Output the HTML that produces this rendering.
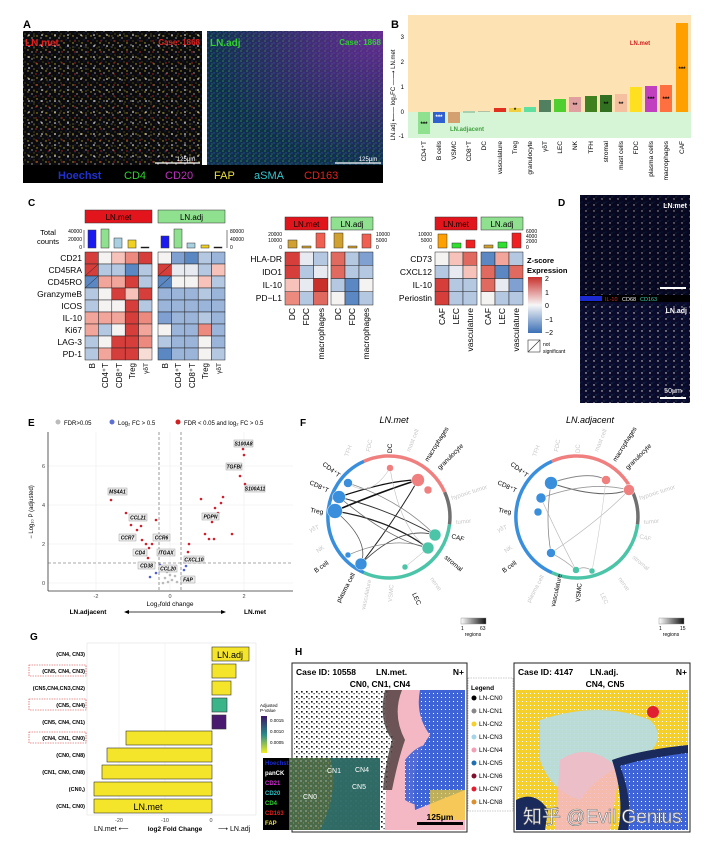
<!DOCTYPE html>
<html><head><meta charset="utf-8"><style>
html,body{margin:0;padding:0;background:#fff;}
svg{display:block;font-family:"Liberation Sans","Noto Sans CJK SC",sans-serif;}
</style></head><body>
<svg width="720" height="845" viewBox="0 0 720 845" xmlns="http://www.w3.org/2000/svg">
<defs>
<pattern id="spk1" width="9" height="7" patternUnits="userSpaceOnUse">
<rect width="9" height="7" fill="#0b0b0e"/>
<circle cx="1" cy="1" r="0.7" fill="#b8a830"/><circle cx="5" cy="3" r="0.6" fill="#eee"/>
<circle cx="7" cy="6" r="0.6" fill="#6a6a20"/><circle cx="3" cy="5" r="0.5" fill="#2a3a90"/>
</pattern>
<pattern id="spk1b" width="13" height="11" patternUnits="userSpaceOnUse">
<circle cx="3" cy="2" r="0.8" fill="#fff"/><circle cx="10" cy="8" r="0.7" fill="#c02020"/><circle cx="8" cy="3" r="0.5" fill="#d0c040"/>
</pattern>
<pattern id="spk2" width="6" height="5" patternUnits="userSpaceOnUse">
<rect width="6" height="5" fill="#10304a"/>
<circle cx="1" cy="1" r="0.8" fill="#2a8a5a"/><circle cx="4" cy="3" r="0.7" fill="#2a4ab0"/>
<circle cx="2" cy="4" r="0.5" fill="#40a0a0"/>
</pattern>
<pattern id="spkD" width="8" height="6" patternUnits="userSpaceOnUse">
<rect width="8" height="6" fill="#0a0a2a"/>
<circle cx="2" cy="1" r="0.7" fill="#e8e8e8"/><circle cx="6" cy="4" r="0.5" fill="#1a2a90"/><circle cx="4" cy="5" r="0.4" fill="#40c0b0"/>
</pattern>
<pattern id="blk" width="5" height="5" patternUnits="userSpaceOnUse">
<rect width="5" height="5" fill="#fff"/><rect x="1" y="1" width="1.6" height="1.6" fill="#111"/><rect x="3.5" y="3" width="1.2" height="1.2" fill="#333"/>
</pattern>
<pattern id="bluep" width="4" height="4" patternUnits="userSpaceOnUse">
<rect width="4" height="4" fill="#3f64d8"/><rect x="1" y="1" width="1" height="1" fill="#fff"/>
</pattern>
<pattern id="yelp" width="4" height="4" patternUnits="userSpaceOnUse">
<rect width="4" height="4" fill="#f5cf2a"/><rect x="2" y="1" width="1" height="1" fill="#fff"/>
</pattern>
<pattern id="insp" width="5" height="5" patternUnits="userSpaceOnUse">
<rect width="5" height="5" fill="#4a6a48"/><circle cx="1" cy="1" r="0.6" fill="#ddd"/><circle cx="3.5" cy="3" r="0.5" fill="#b0a060"/>
</pattern>
<radialGradient id="pur" cx="1" cy="0" r="1">
<stop offset="0" stop-color="#8a2ab0" stop-opacity="0.7"/><stop offset="1" stop-color="#8a2ab0" stop-opacity="0"/></radialGradient>
<linearGradient id="zc" x1="0" y1="0" x2="0" y2="1">
<stop offset="0" stop-color="#c9302c"/><stop offset="0.5" stop-color="#f7f7f7"/><stop offset="1" stop-color="#3a6fb5"/></linearGradient>
<linearGradient id="gc" x1="0" y1="0" x2="0" y2="1">
<stop offset="0" stop-color="#3b1866"/><stop offset="0.5" stop-color="#2a8a8a"/><stop offset="1" stop-color="#f0f020"/></linearGradient>
<linearGradient id="gl" x1="0" y1="0" x2="1" y2="0">
<stop offset="0" stop-color="#fff"/><stop offset="1" stop-color="#111"/></linearGradient>
</defs>

<!-- ===== A ===== -->
<text x="23" y="28" font-size="11" font-weight="bold">A</text>
<rect x="23" y="31" width="179" height="134" fill="url(#spk1)"/>
<rect x="23" y="31" width="179" height="134" fill="url(#spk1b)"/>
<rect x="207" y="31" width="176" height="134" fill="url(#spk2)"/>
<rect x="207" y="31" width="176" height="134" fill="url(#pur)"/>
<text x="25" y="46" font-size="10" font-weight="bold" fill="#e02020">LN.met</text>
<text x="200" y="45" font-size="8" font-weight="bold" fill="#e02020" text-anchor="end">Case: 1868</text>
<text x="210" y="46" font-size="10" font-weight="bold" fill="#30d030">LN.adj</text>
<text x="381" y="45" font-size="8" font-weight="bold" fill="#30d030" text-anchor="end">Case: 1868</text>
<line x1="155" y1="163" x2="200" y2="163" stroke="#fff" stroke-width="1.2"/>
<text x="186" y="161" font-size="6" fill="#fff" text-anchor="middle">125μm</text>
<line x1="335" y1="163" x2="381" y2="163" stroke="#fff" stroke-width="1.2"/>
<text x="368" y="161" font-size="6" fill="#fff" text-anchor="middle">125μm</text>
<rect x="23" y="165" width="360" height="18" fill="#000"/>
<text x="58" y="179" font-size="11" font-weight="bold" fill="#2030d0">Hoechst</text>
<text x="124" y="179" font-size="11" fill="#30d030">CD4</text>
<text x="165" y="179" font-size="11" fill="#c030c0">CD20</text>
<text x="214" y="179" font-size="11" fill="#e8e040">FAP</text>
<text x="254" y="179" font-size="11" fill="#30c8d0">aSMA</text>
<text x="304" y="179" font-size="11" fill="#e02020">CD163</text>

<!-- ===== B ===== -->
<text x="391" y="28" font-size="11" font-weight="bold">B</text>
<rect x="408" y="15" width="283" height="97" fill="#fde3b4"/>
<rect x="408" y="112" width="283" height="26" fill="#d6f5d6"/>
<g font-size="6" text-anchor="end"><text x="404" y="39">3</text><text x="404" y="64">2</text><text x="404" y="89">1</text><text x="404" y="114">0</text><text x="404" y="138">-1</text></g>
<text transform="translate(395,95) rotate(-90)" font-size="6" text-anchor="middle">LN.adj ⟵— log₂FC —⟶ LN.met</text>
<text x="640" y="45" font-size="6" fill="#d02020" text-anchor="middle" font-weight="bold">LN.met</text>
<text x="450" y="131" font-size="6" fill="#40a040" font-weight="bold">LN.adjacent</text>
<g stroke="none">
<rect x="418" y="112" width="12" height="22" fill="#8fe08f"/>
<rect x="433" y="112" width="12" height="11" fill="#3060d0"/>
<rect x="448" y="112" width="12" height="11" fill="#d4a070"/>
<rect x="463" y="111" width="12" height="2" fill="#a8d0b0"/>
<rect x="478" y="111" width="12" height="1" fill="#b0c0a0"/>
<rect x="494" y="108" width="12" height="4" fill="#e03020"/>
<rect x="509" y="108" width="12" height="4" fill="#f0d040"/>
<rect x="524" y="107" width="12" height="5" fill="#60e0a0"/>
<rect x="539" y="100" width="12" height="12" fill="#508060"/>
<rect x="554" y="99" width="12" height="13" fill="#50d030"/>
<rect x="569" y="97" width="12" height="15" fill="#e0a0a0"/>
<rect x="585" y="96" width="12" height="16" fill="#408020"/>
<rect x="600" y="95" width="12" height="17" fill="#307020"/>
<rect x="615" y="94" width="12" height="18" fill="#f5c0a0"/>
<rect x="630" y="87" width="12" height="25" fill="#ffe020"/>
<rect x="645" y="86" width="12" height="26" fill="#c040c0"/>
<rect x="660" y="85" width="12" height="27" fill="#ff7040"/>
<rect x="676" y="23" width="12" height="89" fill="#ffa000"/>
</g>
<g font-size="6" font-weight="bold" text-anchor="middle">
<text x="424" y="126">***</text><text x="439" y="119" fill="#fff">***</text><text x="515" y="112">*</text>
<text x="575" y="107">**</text><text x="606" y="106">**</text><text x="621" y="106">**</text>
<text x="651" y="101">***</text><text x="666" y="101">***</text><text x="682" y="71">***</text></g>
<g font-size="6.5" text-anchor="end">
<text transform="translate(426,141) rotate(-90)">CD4⁺T</text>
<text transform="translate(441,141) rotate(-90)">B cells</text>
<text transform="translate(456,141) rotate(-90)">VSMC</text>
<text transform="translate(471,141) rotate(-90)">CD8⁺T</text>
<text transform="translate(486,141) rotate(-90)">DC</text>
<text transform="translate(502,141) rotate(-90)">vasculature</text>
<text transform="translate(517,141) rotate(-90)">Treg</text>
<text transform="translate(532,141) rotate(-90)">granulocyte</text>
<text transform="translate(547,141) rotate(-90)">γδT</text>
<text transform="translate(562,141) rotate(-90)">LEC</text>
<text transform="translate(577,141) rotate(-90)">NK</text>
<text transform="translate(593,141) rotate(-90)">TFH</text>
<text transform="translate(608,141) rotate(-90)">stromal</text>
<text transform="translate(623,141) rotate(-90)">mast cells</text>
<text transform="translate(638,141) rotate(-90)">FDC</text>
<text transform="translate(653,141) rotate(-90)">plasma cells</text>
<text transform="translate(668,141) rotate(-90)">macrophages</text>
<text transform="translate(684,141) rotate(-90)">CAF</text></g>

<!-- ===== C ===== -->
<text x="28" y="206" font-size="10" font-weight="bold">C</text>
<g font-size="8" text-anchor="middle">
<rect x="85" y="210" width="67" height="13" fill="#e3151c" stroke="#333" stroke-width="0.5"/><text x="118.5" y="220">LN.met</text>
<rect x="158" y="210" width="67" height="13" fill="#8fe08f" stroke="#333" stroke-width="0.5"/><text x="191.5" y="220">LN.adj</text>
<rect x="285" y="217" width="43" height="13" fill="#e3151c" stroke="#333" stroke-width="0.5"/><text x="306.5" y="227">LN.met</text>
<rect x="331" y="217" width="42" height="13" fill="#8fe08f" stroke="#333" stroke-width="0.5"/><text x="352" y="227">LN.adj</text>
<rect x="435" y="217" width="42" height="13" fill="#e3151c" stroke="#333" stroke-width="0.5"/><text x="456" y="227">LN.met</text>
<rect x="481" y="217" width="42" height="13" fill="#8fe08f" stroke="#333" stroke-width="0.5"/><text x="502" y="227">LN.adj</text>
</g>
<text x="48" y="235" font-size="7.5" text-anchor="middle">Total</text><text x="48" y="244" font-size="7.5" text-anchor="middle">counts</text>
<g font-size="5" text-anchor="end"><text x="82" y="233">40000</text><text x="82" y="241">20000</text><text x="82" y="249">0</text></g>
<g font-size="5"><text x="230" y="233">80000</text><text x="230" y="241">40000</text><text x="230" y="249">0</text></g>
<line x1="84" y1="230" x2="84" y2="248" stroke="#000" stroke-width="0.5"/>
<line x1="227" y1="230" x2="227" y2="248" stroke="#000" stroke-width="0.5"/>
<g stroke="#333" stroke-width="0.5">
<rect x="88" y="230" width="8" height="18" fill="#1a1af0"/><rect x="101" y="229" width="8" height="19" fill="#8fe08f"/><rect x="114" y="238" width="8" height="10" fill="#a8d0e0"/><rect x="128" y="240" width="8" height="8" fill="#f0d020"/><rect x="141" y="247" width="8" height="1" fill="#000"/>
<rect x="161" y="236" width="8" height="12" fill="#1a1af0"/><rect x="174" y="229" width="8" height="19" fill="#8fe08f"/><rect x="187" y="243" width="8" height="5" fill="#a8d0e0"/><rect x="201" y="245" width="8" height="3" fill="#f0d020"/><rect x="214" y="247" width="8" height="1" fill="#000"/>
<rect x="288" y="240" width="9" height="8" fill="#d0a030"/><rect x="302" y="246" width="9" height="2" fill="#d0a030"/><rect x="316" y="233" width="9" height="15" fill="#f06050"/>
<rect x="334" y="233" width="9" height="15" fill="#d0a030"/><rect x="348" y="246" width="9" height="2" fill="#d0a030"/><rect x="362" y="234" width="9" height="14" fill="#f06050"/>
<rect x="438" y="234" width="9" height="14" fill="#ffa000"/><rect x="452" y="243" width="9" height="5" fill="#30e030"/><rect x="466" y="240" width="9" height="8" fill="#f02020"/>
<rect x="484" y="245" width="9" height="3" fill="#d0a030"/><rect x="498" y="242" width="9" height="6" fill="#30e030"/><rect x="512" y="233" width="9" height="15" fill="#f02020"/>
</g>
<g font-size="5" text-anchor="end"><text x="282" y="236">20000</text><text x="282" y="242">10000</text><text x="282" y="249">0</text>
<text x="432" y="236">10000</text><text x="432" y="242">5000</text><text x="432" y="249">0</text></g>
<g font-size="5"><text x="376" y="236">10000</text><text x="376" y="242">5000</text><text x="376" y="249">0</text>
<text x="526" y="233">6000</text><text x="526" y="238">4000</text><text x="526" y="243">2000</text><text x="526" y="249">0</text></g>

<g stroke="#222" stroke-width="0.5">
<rect x="85" y="252" width="13.4" height="12" fill="#d53e3a"/><rect x="98.4" y="252" width="13.4" height="12" fill="#f5f2f2"/><rect x="111.8" y="252" width="13.4" height="12" fill="#f6c2ba"/><rect x="125.2" y="252" width="13.4" height="12" fill="#ec8a80"/><rect x="138.6" y="252" width="13.4" height="12" fill="#d53e3a"/>
<rect x="85" y="264" width="13.4" height="12" fill="#d53e3a"/><rect x="98.4" y="264" width="13.4" height="12" fill="#b5c8e2"/><rect x="111.8" y="264" width="13.4" height="12" fill="#b5c8e2"/><rect x="125.2" y="264" width="13.4" height="12" fill="#5b87c2"/><rect x="138.6" y="264" width="13.4" height="12" fill="#b5c8e2"/>
<rect x="85" y="276" width="13.4" height="12" fill="#5b87c2"/><rect x="98.4" y="276" width="13.4" height="12" fill="#f2a59a"/><rect x="111.8" y="276" width="13.4" height="12" fill="#f2a59a"/><rect x="125.2" y="276" width="13.4" height="12" fill="#d53e3a"/><rect x="138.6" y="276" width="13.4" height="12" fill="#b5c8e2"/>
<rect x="85" y="288" width="13.4" height="12" fill="#b5c8e2"/><rect x="98.4" y="288" width="13.4" height="12" fill="#f5f2f2"/><rect x="111.8" y="288" width="13.4" height="12" fill="#d53e3a"/><rect x="125.2" y="288" width="13.4" height="12" fill="#f6c2ba"/><rect x="138.6" y="288" width="13.4" height="12" fill="#d53e3a"/>
<rect x="85" y="300" width="13.4" height="12" fill="#b5c8e2"/><rect x="98.4" y="300" width="13.4" height="12" fill="#f5f2f2"/><rect x="111.8" y="300" width="13.4" height="12" fill="#f5f2f2"/><rect x="125.2" y="300" width="13.4" height="12" fill="#d53e3a"/><rect x="138.6" y="300" width="13.4" height="12" fill="#b5c8e2"/>
<rect x="85" y="312" width="13.4" height="12" fill="#f2a59a"/><rect x="98.4" y="312" width="13.4" height="12" fill="#f2a59a"/><rect x="111.8" y="312" width="13.4" height="12" fill="#f2a59a"/><rect x="125.2" y="312" width="13.4" height="12" fill="#d53e3a"/><rect x="138.6" y="312" width="13.4" height="12" fill="#ec8a80"/>
<rect x="85" y="324" width="13.4" height="12" fill="#f2a59a"/><rect x="98.4" y="324" width="13.4" height="12" fill="#b5c8e2"/><rect x="111.8" y="324" width="13.4" height="12" fill="#f5f2f2"/><rect x="125.2" y="324" width="13.4" height="12" fill="#d53e3a"/><rect x="138.6" y="324" width="13.4" height="12" fill="#f2a59a"/>
<rect x="85" y="336" width="13.4" height="12" fill="#b5c8e2"/><rect x="98.4" y="336" width="13.4" height="12" fill="#f5f2f2"/><rect x="111.8" y="336" width="13.4" height="12" fill="#d53e3a"/><rect x="125.2" y="336" width="13.4" height="12" fill="#d53e3a"/><rect x="138.6" y="336" width="13.4" height="12" fill="#ec8a80"/>
<rect x="85" y="348" width="13.4" height="12" fill="#b5c8e2"/><rect x="98.4" y="348" width="13.4" height="12" fill="#f2a59a"/><rect x="111.8" y="348" width="13.4" height="12" fill="#d53e3a"/><rect x="125.2" y="348" width="13.4" height="12" fill="#d53e3a"/><rect x="138.6" y="348" width="13.4" height="12" fill="#f8dcd6"/>
<rect x="158" y="252" width="13.4" height="12" fill="#f5f2f2"/><rect x="171.4" y="252" width="13.4" height="12" fill="#7fa0d0"/><rect x="184.8" y="252" width="13.4" height="12" fill="#5b87c2"/><rect x="198.2" y="252" width="13.4" height="12" fill="#b5c8e2"/><rect x="211.6" y="252" width="13.4" height="12" fill="#9ab4da"/>
<rect x="158" y="264" width="13.4" height="12" fill="#d53e3a"/><rect x="171.4" y="264" width="13.4" height="12" fill="#e8eaf2"/><rect x="184.8" y="264" width="13.4" height="12" fill="#e8eaf2"/><rect x="198.2" y="264" width="13.4" height="12" fill="#b5c8e2"/><rect x="211.6" y="264" width="13.4" height="12" fill="#f6c2ba"/>
<rect x="158" y="276" width="13.4" height="12" fill="#5b87c2"/><rect x="171.4" y="276" width="13.4" height="12" fill="#f5f2f2"/><rect x="184.8" y="276" width="13.4" height="12" fill="#f5f2f2"/><rect x="198.2" y="276" width="13.4" height="12" fill="#f6c2ba"/><rect x="211.6" y="276" width="13.4" height="12" fill="#b5c8e2"/>
<rect x="158" y="288" width="13.4" height="12" fill="#9ab4da"/><rect x="171.4" y="288" width="13.4" height="12" fill="#9ab4da"/><rect x="184.8" y="288" width="13.4" height="12" fill="#9ab4da"/><rect x="198.2" y="288" width="13.4" height="12" fill="#b5c8e2"/><rect x="211.6" y="288" width="13.4" height="12" fill="#9ab4da"/>
<rect x="158" y="300" width="13.4" height="12" fill="#9ab4da"/><rect x="171.4" y="300" width="13.4" height="12" fill="#9ab4da"/><rect x="184.8" y="300" width="13.4" height="12" fill="#9ab4da"/><rect x="198.2" y="300" width="13.4" height="12" fill="#9ab4da"/><rect x="211.6" y="300" width="13.4" height="12" fill="#9ab4da"/>
<rect x="158" y="312" width="13.4" height="12" fill="#7fa0d0"/><rect x="171.4" y="312" width="13.4" height="12" fill="#9ab4da"/><rect x="184.8" y="312" width="13.4" height="12" fill="#9ab4da"/><rect x="198.2" y="312" width="13.4" height="12" fill="#b5c8e2"/><rect x="211.6" y="312" width="13.4" height="12" fill="#9ab4da"/>
<rect x="158" y="324" width="13.4" height="12" fill="#f5f2f2"/><rect x="171.4" y="324" width="13.4" height="12" fill="#9ab4da"/><rect x="184.8" y="324" width="13.4" height="12" fill="#9ab4da"/><rect x="198.2" y="324" width="13.4" height="12" fill="#ec8a80"/><rect x="211.6" y="324" width="13.4" height="12" fill="#9ab4da"/>
<rect x="158" y="336" width="13.4" height="12" fill="#b5c8e2"/><rect x="171.4" y="336" width="13.4" height="12" fill="#9ab4da"/><rect x="184.8" y="336" width="13.4" height="12" fill="#9ab4da"/><rect x="198.2" y="336" width="13.4" height="12" fill="#f5f2f2"/><rect x="211.6" y="336" width="13.4" height="12" fill="#9ab4da"/>
<rect x="158" y="348" width="13.4" height="12" fill="#5b87c2"/><rect x="171.4" y="348" width="13.4" height="12" fill="#9ab4da"/><rect x="184.8" y="348" width="13.4" height="12" fill="#9ab4da"/><rect x="198.2" y="348" width="13.4" height="12" fill="#f5f2f2"/><rect x="211.6" y="348" width="13.4" height="12" fill="#b5c8e2"/>
</g>
<g stroke="#222" stroke-width="0.5"><line x1="85" y1="276" x2="98.4" y2="264"/><line x1="85" y1="288" x2="98.4" y2="276"/><line x1="158" y1="276" x2="171.4" y2="264"/><line x1="158" y1="288" x2="171.4" y2="276"/></g>
<g font-size="8.5" text-anchor="end">
<text x="82" y="261">CD21</text><text x="82" y="273">CD45RA</text><text x="82" y="285">CD45RO</text><text x="82" y="297">GranzymeB</text><text x="82" y="309">ICOS</text><text x="82" y="321">IL-10</text><text x="82" y="333">Ki67</text><text x="82" y="345">LAG-3</text><text x="82" y="357">PD-1</text></g>
<g font-size="8" text-anchor="end">
<text transform="translate(95,363) rotate(-90)">B</text><text transform="translate(108,363) rotate(-90)">CD4⁺T</text><text transform="translate(122,363) rotate(-90)">CD8⁺T</text><text transform="translate(135,363) rotate(-90)">Treg</text><text transform="translate(148,363) rotate(-90)" font-size="6.5">γδT</text>
<text transform="translate(168,363) rotate(-90)">B</text><text transform="translate(181,363) rotate(-90)">CD4⁺T</text><text transform="translate(195,363) rotate(-90)">CD8⁺T</text><text transform="translate(208,363) rotate(-90)">Treg</text><text transform="translate(221,363) rotate(-90)" font-size="6.5">γδT</text></g>

<g stroke="#222" stroke-width="0.5">
<rect x="285" y="252" width="14.3" height="13.25" fill="#d53e3a"/><rect x="299.3" y="252" width="14.3" height="13.25" fill="#e8eaf2"/><rect x="313.6" y="252" width="14.3" height="13.25" fill="#b5c8e2"/>
<rect x="285" y="265.25" width="14.3" height="13.25" fill="#d53e3a"/><rect x="299.3" y="265.25" width="14.3" height="13.25" fill="#b5c8e2"/><rect x="313.6" y="265.25" width="14.3" height="13.25" fill="#e8eaf2"/>
<rect x="285" y="278.5" width="14.3" height="13.25" fill="#f6c2ba"/><rect x="299.3" y="278.5" width="14.3" height="13.25" fill="#e8eaf2"/><rect x="313.6" y="278.5" width="14.3" height="13.25" fill="#c9302c"/>
<rect x="285" y="291.75" width="14.3" height="13.25" fill="#ec8a80"/><rect x="299.3" y="291.75" width="14.3" height="13.25" fill="#b5c8e2"/><rect x="313.6" y="291.75" width="14.3" height="13.25" fill="#e06a60"/>
<rect x="331" y="252" width="14" height="13.25" fill="#e06a60"/><rect x="345" y="252" width="14" height="13.25" fill="#b5c8e2"/><rect x="359" y="252" width="14" height="13.25" fill="#7fa0d0"/>
<rect x="331" y="265.25" width="14" height="13.25" fill="#e06a60"/><rect x="345" y="265.25" width="14" height="13.25" fill="#b5c8e2"/><rect x="359" y="265.25" width="14" height="13.25" fill="#b5c8e2"/>
<rect x="331" y="278.5" width="14" height="13.25" fill="#b5c8e2"/><rect x="345" y="278.5" width="14" height="13.25" fill="#5b87c2"/><rect x="359" y="278.5" width="14" height="13.25" fill="#f5f2f2"/>
<rect x="331" y="291.75" width="14" height="13.25" fill="#f5f2f2"/><rect x="345" y="291.75" width="14" height="13.25" fill="#5b87c2"/><rect x="359" y="291.75" width="14" height="13.25" fill="#b5c8e2"/>
<rect x="435" y="252" width="14" height="13.25" fill="#f5f2f2"/><rect x="449" y="252" width="14" height="13.25" fill="#f6c2ba"/><rect x="463" y="252" width="14" height="13.25" fill="#e06a60"/>
<rect x="435" y="265.25" width="14" height="13.25" fill="#b5c8e2"/><rect x="449" y="265.25" width="14" height="13.25" fill="#e8eaf2"/><rect x="463" y="265.25" width="14" height="13.25" fill="#f6c2ba"/>
<rect x="435" y="278.5" width="14" height="13.25" fill="#d53e3a"/><rect x="449" y="278.5" width="14" height="13.25" fill="#b5c8e2"/><rect x="463" y="278.5" width="14" height="13.25" fill="#b5c8e2"/>
<rect x="435" y="291.75" width="14" height="13.25" fill="#d53e3a"/><rect x="449" y="291.75" width="14" height="13.25" fill="#b5c8e2"/><rect x="463" y="291.75" width="14" height="13.25" fill="#b5c8e2"/>
<rect x="481" y="252" width="14" height="13.25" fill="#5b87c2"/><rect x="495" y="252" width="14" height="13.25" fill="#f2a59a"/><rect x="509" y="252" width="14" height="13.25" fill="#b5c8e2"/>
<rect x="481" y="265.25" width="14" height="13.25" fill="#e06a60"/><rect x="495" y="265.25" width="14" height="13.25" fill="#5b87c2"/><rect x="509" y="265.25" width="14" height="13.25" fill="#e06a60"/>
<rect x="481" y="278.5" width="14" height="13.25" fill="#e06a60"/><rect x="495" y="278.5" width="14" height="13.25" fill="#e8eaf2"/><rect x="509" y="278.5" width="14" height="13.25" fill="#7fa0d0"/>
<rect x="481" y="291.75" width="14" height="13.25" fill="#f5f2f2"/><rect x="495" y="291.75" width="14" height="13.25" fill="#b5c8e2"/><rect x="509" y="291.75" width="14" height="13.25" fill="#b5c8e2"/>
</g>
<g font-size="8.5" text-anchor="end">
<text x="282" y="262">HLA-DR</text><text x="282" y="275">IDO1</text><text x="282" y="288">IL-10</text><text x="282" y="301">PD−L1</text>
<text x="432" y="262">CD73</text><text x="432" y="275">CXCL12</text><text x="432" y="288">IL-10</text><text x="432" y="301">Periostin</text></g>
<g font-size="8.5" text-anchor="end">
<text transform="translate(295,308) rotate(-90)">DC</text><text transform="translate(309,308) rotate(-90)">FDC</text><text transform="translate(324,308) rotate(-90)">macrophages</text>
<text transform="translate(341,308) rotate(-90)">DC</text><text transform="translate(355,308) rotate(-90)">FDC</text><text transform="translate(369,308) rotate(-90)">macrophages</text>
<text transform="translate(445,308) rotate(-90)">CAF</text><text transform="translate(459,308) rotate(-90)">LEC</text><text transform="translate(473,308) rotate(-90)">vasculature</text>
<text transform="translate(491,308) rotate(-90)">CAF</text><text transform="translate(505,308) rotate(-90)">LEC</text><text transform="translate(519,308) rotate(-90)">vasculature</text></g>
<text x="527" y="263" font-size="7.5" font-weight="bold">Z-score</text>
<text x="527" y="273" font-size="7.5" font-weight="bold">Expression</text>
<rect x="528" y="277" width="14" height="56" fill="url(#zc)"/>
<g font-size="7"><text x="545" y="281">2</text><text x="545" y="295">1</text><text x="545" y="308">0</text><text x="545" y="322">−1</text><text x="545" y="335">−2</text></g>
<rect x="528" y="340" width="12" height="12" fill="#fff" stroke="#333" stroke-width="0.6"/><line x1="528" y1="352" x2="540" y2="340" stroke="#333" stroke-width="0.6"/>
<text x="543" y="346" font-size="5">not</text><text x="543" y="353" font-size="5">significant</text>

<!-- ===== D ===== -->
<text x="558" y="206" font-size="10" font-weight="bold">D</text>
<rect x="580" y="195" width="110" height="208" fill="url(#spkD)"/>
<rect x="580" y="195" width="110" height="100" fill="#000" opacity="0.25"/>
<text x="687" y="208" font-size="7" font-weight="bold" fill="#fff" text-anchor="end">LN.met</text>
<line x1="660" y1="288" x2="686" y2="288" stroke="#fff" stroke-width="2"/>
<rect x="580" y="295" width="110" height="7" fill="#000"/>
<rect x="580" y="296" width="22" height="5" fill="#1a2ad0"/>
<text x="605" y="301" font-size="5.5" fill="#d03030">IL-10</text><text x="622" y="301" font-size="5.5" fill="#eee">CD68</text><text x="640" y="301" font-size="5.5" fill="#40d0b0">CD163</text>
<text x="687" y="313" font-size="7" font-weight="bold" fill="#fff" text-anchor="end">LN.adj</text>
<text x="673" y="393" font-size="7" fill="#fff" text-anchor="middle">50μm</text>
<line x1="660" y1="398" x2="686" y2="398" stroke="#fff" stroke-width="2"/>

<!-- ===== E ===== -->
<text x="28" y="426" font-size="10" font-weight="bold">E</text>
<circle cx="58" cy="422" r="2.5" fill="#bbb"/><text x="64" y="425" font-size="6">FDR&gt;0.05</text>
<circle cx="112" cy="422" r="2.5" fill="#6070d0"/><text x="118" y="425" font-size="6">Log₂ FC &gt; 0.5</text>
<circle cx="178" cy="422" r="2.5" fill="#d02020"/><text x="184" y="425" font-size="6">FDR &lt; 0.05 and log₂ FC &gt; 0.5</text>
<rect x="48" y="432" width="245" height="159" fill="#fff"/>
<g stroke="#ececec" stroke-width="0.6">
<line x1="96" y1="432" x2="96" y2="591"/><line x1="170" y1="432" x2="170" y2="591"/><line x1="244" y1="432" x2="244" y2="591"/>
<line x1="48" y1="583" x2="293" y2="583"/><line x1="48" y1="544" x2="293" y2="544"/><line x1="48" y1="505" x2="293" y2="505"/><line x1="48" y1="466" x2="293" y2="466"/></g>
<line x1="48" y1="432" x2="48" y2="591" stroke="#333" stroke-width="0.8"/><line x1="48" y1="591" x2="293" y2="591" stroke="#333" stroke-width="0.8"/>
<g stroke="#555" stroke-width="0.6" stroke-dasharray="3,2"><line x1="159" y1="432" x2="159" y2="591"/><line x1="181" y1="432" x2="181" y2="591"/><line x1="48" y1="563" x2="293" y2="563"/></g>
<g font-size="5.5" fill="#444" text-anchor="end"><text x="45" y="585">0</text><text x="45" y="546">2</text><text x="45" y="507">4</text><text x="45" y="468">6</text></g>
<g font-size="5.5" fill="#444" text-anchor="middle"><text x="96" y="598">-2</text><text x="170" y="598">0</text><text x="244" y="598">2</text></g>
<text transform="translate(33,512) rotate(-90)" font-size="6" text-anchor="middle">− Log₁₀ P (adjusted)</text>
<text x="170" y="606" font-size="6.5" text-anchor="middle">Log₂fold change</text>
<text x="88" y="614" font-size="6.5" font-weight="bold" text-anchor="middle">LN.adjacent</text>
<text x="255" y="614" font-size="6.5" font-weight="bold" text-anchor="middle">LN.met</text>
<line x1="127" y1="612" x2="223" y2="612" stroke="#000" stroke-width="0.7"/>
<path d="M124 612 l5 -2 v4z M226 612 l-5 -2 v4z" fill="#000"/>
<g fill="#bbb"><circle cx="168" cy="582" r="1.3"/><circle cx="172" cy="580" r="1.3"/><circle cx="165" cy="578" r="1.3"/><circle cx="175" cy="576" r="1.3"/><circle cx="170" cy="575" r="1.3"/><circle cx="163" cy="583" r="1.3"/><circle cx="177" cy="582" r="1.3"/><circle cx="167" cy="572" r="1.3"/></g>
<g fill="#5060d0"><circle cx="150" cy="577" r="1.3"/><circle cx="156" cy="573" r="1.3"/><circle cx="186" cy="566" r="1.3"/><circle cx="160" cy="565" r="1.3"/><circle cx="184" cy="570" r="1.3"/></g>
<g fill="#d02030"><circle cx="111" cy="500" r="1.3"/><circle cx="126" cy="513" r="1.3"/><circle cx="131" cy="525" r="1.3"/><circle cx="137" cy="530" r="1.3"/><circle cx="141" cy="526" r="1.3"/><circle cx="142" cy="540" r="1.3"/><circle cx="146" cy="544" r="1.3"/><circle cx="149" cy="548" r="1.3"/><circle cx="152" cy="544" r="1.3"/><circle cx="148" cy="558" r="1.3"/><circle cx="155" cy="537" r="1.3"/><circle cx="156" cy="520" r="1.3"/><circle cx="189" cy="544" r="1.3"/><circle cx="188" cy="552" r="1.3"/><circle cx="201" cy="499" r="1.3"/><circle cx="205" cy="534" r="1.3"/><circle cx="209" cy="539" r="1.3"/><circle cx="212" cy="522" r="1.3"/><circle cx="215" cy="508" r="1.3"/><circle cx="218" cy="513" r="1.3"/><circle cx="221" cy="503" r="1.3"/><circle cx="223" cy="497" r="1.3"/><circle cx="232" cy="534" r="1.3"/><circle cx="243" cy="449" r="1.3"/><circle cx="244" cy="455" r="1.3"/><circle cx="240" cy="476" r="1.3"/><circle cx="245" cy="484" r="1.3"/><circle cx="214" cy="539" r="1.3"/></g>
<g font-size="5" font-style="italic" font-weight="bold" text-anchor="middle">
<g fill="#eee" stroke="#888" stroke-width="0.4">
<rect x="234" y="440" width="19" height="7"/><rect x="226" y="463" width="16" height="7"/><rect x="245" y="485" width="20" height="7"/><rect x="108" y="488" width="19" height="7"/><rect x="202" y="513" width="17" height="7"/><rect x="129" y="514" width="18" height="7"/><rect x="119" y="534" width="17" height="7"/><rect x="153" y="534" width="17" height="7"/><rect x="133" y="549" width="14" height="7"/><rect x="157" y="549" width="18" height="7"/><rect x="138" y="562" width="17" height="7"/><rect x="184" y="556" width="20" height="7"/><rect x="159" y="565" width="18" height="7"/><rect x="181" y="576" width="14" height="7"/></g>
<text x="243.5" y="445.5">S100A8</text><text x="234" y="468.5">TGFBI</text><text x="255" y="490.5">S100A11</text><text x="117.5" y="493.5">MS4A1</text><text x="210.5" y="518.5">PDPN</text><text x="138" y="519.5">CCL21</text><text x="127.5" y="539.5">CCR7</text><text x="161.5" y="539.5">CCR6</text><text x="140" y="554.5">CD4</text><text x="166" y="554.5">ITGAX</text><text x="146.5" y="567.5">CD38</text><text x="194" y="561.5">CXCL10</text><text x="168" y="570.5">CCL20</text><text x="188" y="581.5">FAP</text></g>

<!-- ===== F ===== -->
<text x="300" y="426" font-size="10" font-weight="bold">F</text>
<text x="394" y="423" font-size="9" font-style="italic" text-anchor="middle">LN.met</text>
<text x="590" y="423" font-size="9" font-style="italic" text-anchor="middle">LN.adjacent</text>
<g fill="none" stroke-width="3.5">
<path d="M364 461.3 A61 61 0 0 0 364 572.7" stroke="#3a8fdc"/>
<path d="M364 572.7 A61 61 0 0 0 449.5 524.4" stroke="#4cc4a8"/>
<path d="M449.5 524.4 A61 61 0 0 0 444.7 492.2" stroke="#707070"/>
<path d="M444.7 492.2 A61 61 0 0 0 364 461.3" stroke="#f08080"/>
</g>
<g fill="none" stroke-width="3.5">
<path d="M552 461.3 A61 61 0 0 0 552 572.7" stroke="#3a8fdc"/>
<path d="M552 572.7 A61 61 0 0 0 637.5 524.4" stroke="#4cc4a8"/>
<path d="M637.5 524.4 A61 61 0 0 0 632.7 492.2" stroke="#707070"/>
<path d="M632.7 492.2 A61 61 0 0 0 552 461.3" stroke="#f08080"/>
</g>
<g fill="none">
<path d="M348 483 Q400 500 435 535" stroke="#888" stroke-width="0.8"/>
<path d="M339 497 Q390 480 418 480" stroke="#111" stroke-width="1.3"/>
<path d="M335 511 Q385 490 418 480" stroke="#111" stroke-width="1.6"/>
<path d="M335 511 Q390 520 428 548" stroke="#222" stroke-width="1.2"/>
<path d="M339 497 Q390 510 435 535" stroke="#333" stroke-width="1"/>
<path d="M361 564 Q395 520 418 480" stroke="#222" stroke-width="1"/>
<path d="M361 564 Q400 525 435 535" stroke="#444" stroke-width="0.8"/>
<path d="M348 555 Q395 535 428 548" stroke="#888" stroke-width="0.7"/>
<path d="M335 511 Q370 540 361 564" stroke="#555" stroke-width="0.8"/>
<path d="M390 468 Q370 500 348 483" stroke="#ccc" stroke-width="0.7"/>
<path d="M390 468 Q400 530 428 548" stroke="#bbb" stroke-width="0.6"/>
<path d="M405 567 Q420 555 428 548" stroke="#ccc" stroke-width="0.6"/>
<path d="M339 497 Q390 540 428 548" stroke="#666" stroke-width="0.8"/>
</g>
<g stroke="#fff" stroke-width="0.5">
<circle cx="390" cy="468" r="3.5" fill="#f08080"/><circle cx="418" cy="480" r="6.5" fill="#f08080"/><circle cx="428" cy="490" r="4" fill="#f08080"/>
<circle cx="348" cy="483" r="4.5" fill="#3a8fdc"/><circle cx="339" cy="497" r="6.5" fill="#3a8fdc"/><circle cx="335" cy="511" r="7.5" fill="#3a8fdc"/><circle cx="348" cy="555" r="3" fill="#3a8fdc"/><circle cx="361" cy="564" r="6" fill="#3a8fdc"/>
<circle cx="405" cy="567" r="3" fill="#4cc4a8"/><circle cx="435" cy="535" r="6" fill="#4cc4a8"/><circle cx="428" cy="548" r="6" fill="#4cc4a8"/></g>
<g fill="none">
<path d="M551 483 Q590 470 606 480" stroke="#888" stroke-width="1"/>
<path d="M551 483 Q600 500 629 490" stroke="#666" stroke-width="1"/>
<path d="M541 498 Q590 480 629 490" stroke="#999" stroke-width="0.8"/>
<path d="M551 553 Q600 520 629 490" stroke="#bbb" stroke-width="0.7"/>
<path d="M551 553 Q565 560 576 570" stroke="#aaa" stroke-width="0.7"/>
<path d="M576 570 Q585 565 592 571" stroke="#999" stroke-width="0.7"/>
<path d="M541 498 Q560 540 576 570" stroke="#bbb" stroke-width="0.7"/>
<path d="M551 483 Q545 520 551 553" stroke="#888" stroke-width="0.8"/>
<path d="M606 480 Q600 530 592 571" stroke="#ccc" stroke-width="0.6"/>
</g>
<g stroke="#fff" stroke-width="0.5">
<circle cx="606" cy="480" r="4.5" fill="#f08080"/><circle cx="629" cy="490" r="5.5" fill="#f08080"/>
<circle cx="551" cy="483" r="6.5" fill="#3a8fdc"/><circle cx="541" cy="498" r="5" fill="#3a8fdc"/><circle cx="538" cy="512" r="4" fill="#3a8fdc"/><circle cx="551" cy="553" r="4.5" fill="#3a8fdc"/>
<circle cx="576" cy="570" r="3.5" fill="#4cc4a8"/><circle cx="592" cy="571" r="3" fill="#4cc4a8"/></g>
<g font-size="6.5">
<text transform="translate(322,465) rotate(38)">CD4⁺T</text>
<text transform="translate(309,484) rotate(25)">CD8⁺T</text>
<text transform="translate(310,512) rotate(10)">Treg</text>
<text transform="translate(316,573) rotate(-35)">B cell</text>
<text transform="translate(340,603) rotate(-62)">plasma cell</text>
<text transform="translate(412,594) rotate(65)">LEC</text>
<text transform="translate(444,558) rotate(40)">stromal</text>
<text transform="translate(451,538) rotate(15)">CAF</text>
<text transform="translate(440,470) rotate(-45)">granulocyte</text>
<text transform="translate(428,462) rotate(-58)">macrophages</text>
<text transform="translate(392,453) rotate(-90)">DC</text>
</g>
<g font-size="6" fill="#c8c8c8">
<text transform="translate(348,457) rotate(-70)">TFH</text>
<text transform="translate(370,452) rotate(-80)">FDC</text>
<text transform="translate(410,452) rotate(-68)">mast cell</text>
<text transform="translate(452,500) rotate(-18)">hypoxic tumor</text>
<text transform="translate(456,524) rotate(-5)">tumor</text>
<text transform="translate(310,532) rotate(-20)">γδT</text>
<text transform="translate(318,553) rotate(-35)">NK</text>
<text transform="translate(365,610) rotate(-78)">vasculature</text>
<text transform="translate(392,602) rotate(-85)">VSMC</text>
<text transform="translate(430,579) rotate(55)">nerve</text>
</g>
<g font-size="6.5">
<text transform="translate(510,465) rotate(38)">CD4⁺T</text>
<text transform="translate(497,484) rotate(25)">CD8⁺T</text>
<text transform="translate(498,512) rotate(10)">Treg</text>
<text transform="translate(504,573) rotate(-35)">B cell</text>
<text transform="translate(555,607) rotate(-78)">vasculature</text>
<text transform="translate(580,602) rotate(-85)">VSMC</text>
<text transform="translate(628,470) rotate(-45)">granulocyte</text>
<text transform="translate(616,462) rotate(-58)">macrophages</text>
</g>
<g font-size="6" fill="#c8c8c8">
<text transform="translate(536,457) rotate(-70)">TFH</text>
<text transform="translate(558,452) rotate(-80)">FDC</text>
<text transform="translate(580,453) rotate(-90)">DC</text>
<text transform="translate(598,452) rotate(-68)">mast cell</text>
<text transform="translate(640,500) rotate(-18)">hypoxic tumor</text>
<text transform="translate(644,524) rotate(-5)">tumor</text>
<text transform="translate(639,538) rotate(15)">CAF</text>
<text transform="translate(632,558) rotate(40)">stromal</text>
<text transform="translate(498,532) rotate(-20)">γδT</text>
<text transform="translate(506,553) rotate(-35)">NK</text>
<text transform="translate(530,603) rotate(-62)">plasma cell</text>
<text transform="translate(600,594) rotate(65)">LEC</text>
<text transform="translate(618,579) rotate(55)">nerve</text>
</g>
<rect x="461" y="618" width="25" height="6" fill="url(#gl)" stroke="#888" stroke-width="0.4"/>
<text x="461" y="630" font-size="5">1</text><text x="480" y="630" font-size="5">63</text><text x="473" y="636" font-size="5" text-anchor="middle">regions</text>
<rect x="659" y="618" width="25" height="6" fill="url(#gl)" stroke="#888" stroke-width="0.4"/>
<text x="659" y="630" font-size="5">1</text><text x="680" y="630" font-size="5">15</text><text x="671" y="636" font-size="5" text-anchor="middle">regions</text>

<!-- ===== G ===== -->
<text x="30" y="640" font-size="10" font-weight="bold">G</text>
<rect x="87" y="643" width="169" height="172" fill="#fff" stroke="#ddd" stroke-width="0.5"/>
<g stroke="#eee" stroke-width="0.6"><line x1="119" y1="643" x2="119" y2="815"/><line x1="165" y1="643" x2="165" y2="815"/><line x1="211" y1="643" x2="211" y2="815"/></g>
<g stroke="#333" stroke-width="0.6">
<rect x="212" y="647" width="37" height="14" fill="#f5e52a"/>
<rect x="212" y="664" width="24" height="14" fill="#f5e52a"/>
<rect x="212" y="681" width="19" height="14" fill="#f5e52a"/>
<rect x="212" y="698" width="15" height="14" fill="#3ab58a"/>
<rect x="212" y="715" width="14" height="14" fill="#4a1a70"/>
<rect x="126" y="731" width="86" height="14" fill="#f5e52a"/>
<rect x="107" y="748" width="105" height="14" fill="#f5e52a"/>
<rect x="102" y="765" width="110" height="14" fill="#f5e52a"/>
<rect x="94" y="782" width="118" height="14" fill="#f5e52a"/>
<rect x="94" y="799" width="118" height="14" fill="#f5e52a"/>
</g>
<text x="230" y="658" font-size="9" text-anchor="middle">LN.adj</text>
<text x="148" y="810" font-size="9" text-anchor="middle">LN.met</text>
<g font-size="5.5" font-weight="bold" text-anchor="end">
<text x="85" y="656">(CN4, CN3)</text><text x="85" y="673">(CN5, CN4, CN3)</text><text x="85" y="690">(CN5,CN4,CN3,CN2)</text><text x="85" y="707">(CN5, CN4)</text><text x="85" y="724">(CN5, CN4, CN1)</text><text x="85" y="740">(CN4, CN1, CN0)</text><text x="85" y="757">(CN0, CN8)</text><text x="85" y="774">(CN1, CN0, CN8)</text><text x="85" y="791">(CN0,)</text><text x="85" y="808">(CN1, CN0)</text></g>
<g fill="none" stroke="#d03030" stroke-width="0.6" stroke-dasharray="1.5,1"><rect x="29" y="665" width="57" height="11"/><rect x="29" y="699" width="57" height="11"/><rect x="29" y="732" width="57" height="11"/></g>
<g font-size="5.5" fill="#444" text-anchor="middle"><text x="119" y="822">-20</text><text x="165" y="822">-10</text><text x="211" y="822">0</text></g>
<text x="94" y="831" font-size="7">LN.met ⟵</text>
<text x="175" y="831" font-size="6.5" font-weight="bold" text-anchor="middle">log2 Fold Change</text>
<text x="218" y="831" font-size="7">⟶ LN.adj</text>
<text x="260" y="707" font-size="4.5">Adjusted</text><text x="260" y="712" font-size="4.5">P-Value</text>
<rect x="261" y="716" width="6" height="37" fill="url(#gc)"/>
<g font-size="4.5"><text x="270" y="722">0.0015</text><text x="270" y="733">0.0010</text><text x="270" y="744">0.0005</text></g>

<!-- ===== H ===== -->
<text x="295" y="655" font-size="10" font-weight="bold">H</text>
<rect x="292" y="663" width="175" height="169" fill="#fff" stroke="#222" stroke-width="1"/>
<text x="296" y="675" font-size="8.5" font-weight="bold">Case ID: 10558</text>
<text x="376" y="675" font-size="8.5" font-weight="bold">LN.met.</text>
<text x="464" y="675" font-size="8.5" font-weight="bold" text-anchor="end">N+</text>
<text x="380" y="687" font-size="8.5" font-weight="bold" text-anchor="middle">CN0, CN1, CN4</text>
<rect x="294" y="690" width="171" height="140" fill="#f4b8c4"/>
<path d="M294 690 H388 Q380 720 395 740 Q385 770 385 830 H294Z" fill="url(#blk)"/>
<path d="M385 690 Q378 720 392 740 Q384 770 383 790 L392 790 Q398 760 405 740 Q392 715 402 690Z" fill="#4a3a3a" opacity="0.8"/>
<path d="M420 690 H465 V790 Q440 800 415 810 Q410 760 430 735 Q415 715 420 690Z" fill="url(#bluep)"/>
<path d="M405 760 Q420 740 440 745 L438 800 Q420 810 405 800Z" fill="url(#bluep)" opacity="0.9"/>
<rect x="430" y="790" width="35" height="30" fill="#f5cf2a" opacity="0.7"/>
<rect x="263" y="758" width="117" height="72" fill="url(#insp)"/>
<path d="M330 758 Q340 790 320 830 H380 V758Z" fill="#2a6a6a" opacity="0.85"/>
<rect x="263" y="758" width="26" height="72" fill="#000"/>
<g font-size="6" font-weight="bold"><text x="265" y="765" fill="#1a2ad0">Hoechst</text><text x="265" y="775" fill="#fff">panCK</text><text x="265" y="785" fill="#d030d0">CD21</text><text x="265" y="795" fill="#30c0c0">CD20</text><text x="265" y="805" fill="#30d030">CD4</text><text x="265" y="815" fill="#e02020">CD163</text><text x="265" y="825" fill="#e8e040">FAP</text></g>
<g font-size="7" fill="#fff"><text x="327" y="773">CN1</text><text x="355" y="772">CN4</text><text x="352" y="789">CN5</text><text x="303" y="799">CN0</text></g>
<rect x="417" y="822" width="46" height="3" fill="#000"/>
<text x="440" y="820" font-size="8.5" font-weight="bold" text-anchor="middle">125μm</text>
<rect x="468" y="678" width="45" height="133" fill="#fff" stroke="#999" stroke-width="0.6" stroke-dasharray="1.5,1"/>
<text x="471" y="690" font-size="6.5" font-weight="bold">Legend</text>
<g font-size="6.5">
<circle cx="474" cy="698" r="2.5" fill="#000"/><text x="479" y="700">LN-CN0</text>
<circle cx="474" cy="711" r="2.5" fill="#888"/><text x="479" y="713">LN-CN1</text>
<circle cx="474" cy="724" r="2.5" fill="#f5cf2a"/><text x="479" y="726">LN-CN2</text>
<circle cx="474" cy="737" r="2.5" fill="#a8d4e8"/><text x="479" y="739">LN-CN3</text>
<circle cx="474" cy="750" r="2.5" fill="#f4a0b4"/><text x="479" y="752">LN-CN4</text>
<circle cx="474" cy="763" r="2.5" fill="#1f70b0"/><text x="479" y="765">LN-CN5</text>
<circle cx="474" cy="776" r="2.5" fill="#801030"/><text x="479" y="778">LN-CN6</text>
<circle cx="474" cy="789" r="2.5" fill="#e02030"/><text x="479" y="791">LN-CN7</text>
<circle cx="474" cy="802" r="2.5" fill="#d89030"/><text x="479" y="804">LN-CN8</text></g>
<rect x="514" y="663" width="176" height="169" fill="#fff" stroke="#222" stroke-width="1"/>
<text x="518" y="675" font-size="8.5" font-weight="bold">Case ID: 4147</text>
<text x="590" y="675" font-size="8.5" font-weight="bold">LN.adj.</text>
<text x="687" y="675" font-size="8.5" font-weight="bold" text-anchor="end">N+</text>
<text x="605" y="687" font-size="8.5" font-weight="bold" text-anchor="middle">CN4, CN5</text>
<rect x="516" y="690" width="172" height="140" fill="url(#yelp)"/>
<path d="M540 720 Q600 700 650 720 Q670 740 640 760 Q600 770 580 800 Q550 790 540 760Z" fill="#b5dce8" opacity="0.9"/>
<path d="M560 760 Q590 740 620 770 L610 830 H555Z" fill="#f4b8c4" opacity="0.85"/>
<path d="M612 760 Q640 750 688 745 V830 H618 Q625 800 612 760Z" fill="#1a2a5a"/>
<path d="M620 766 Q645 758 688 753 V830 H628 Q633 800 620 766Z" fill="url(#bluep)"/>
<path d="M516 800 Q535 790 548 810 L545 830 H516Z" fill="#1a2a5a"/>
<circle cx="653" cy="712" r="6" fill="#e02030"/>
<text x="523" y="823" font-size="19" fill="#fff" stroke="#777" stroke-width="0.6">知乎 @Evil Genius</text>
</svg>
</body></html>
